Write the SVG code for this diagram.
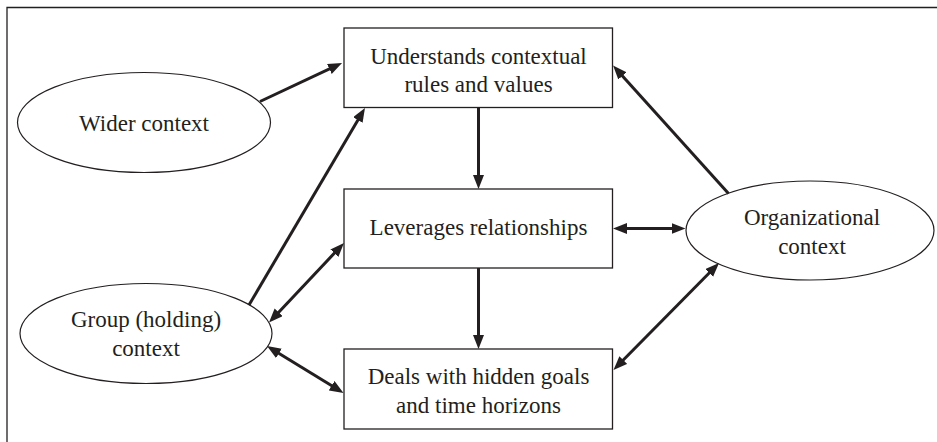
<svg xmlns="http://www.w3.org/2000/svg" width="937" height="442" viewBox="0 0 937 442">
<style>
  .frame{fill:none;stroke:#231f20;stroke-width:1.3}
  .box{fill:#fff;stroke:#231f20;stroke-width:1.3}
  .ell{fill:#fff;stroke:#231f20;stroke-width:1.2}
  .lbl{font-family:"Liberation Serif","Times New Roman",serif;font-size:23px;fill:#231f20;text-anchor:middle}
  .arr{fill:none;stroke:#231f20;stroke-width:3}
</style>
<defs>
  <marker id="ah" markerUnits="userSpaceOnUse" markerWidth="16" markerHeight="12" refX="6" refY="5.5" orient="auto-start-reverse" viewBox="0 0 16 12">
    <path d="M0,0 L14,5.5 L0,11 z" fill="#231f20"/>
  </marker>
</defs>
<rect width="937" height="442" fill="#fff"/>
<path class="frame" d="M7,442 V7.5 H937"/>

<g id="wider">
  <ellipse class="ell" cx="144" cy="122.5" rx="126.5" ry="50"/>
  <text class="lbl" x="144" y="131">Wider context</text>
</g>
<g id="group">
  <ellipse class="ell" cx="146" cy="333.5" rx="126" ry="50"/>
  <text class="lbl" x="146" y="327">Group (holding)</text>
  <text class="lbl" x="146" y="356">context</text>
</g>
<g id="org">
  <ellipse class="ell" cx="810" cy="230.5" rx="124" ry="49.5"/>
  <text class="lbl" x="812" y="225">Organizational</text>
  <text class="lbl" x="812" y="254">context</text>
</g>
<g id="understands">
  <rect class="box" x="344" y="28" width="268.5" height="79.5"/>
  <text class="lbl" x="478.5" y="63.5">Understands contextual</text>
  <text class="lbl" x="478.5" y="92">rules and values</text>
</g>
<g id="leverages">
  <rect class="box" x="344" y="189" width="268.5" height="79"/>
  <text class="lbl" x="478.5" y="235">Leverages relationships</text>
</g>
<g id="deals">
  <rect class="box" x="344" y="349" width="268.5" height="80"/>
  <text class="lbl" x="478.5" y="383.5">Deals with hidden goals</text>
  <text class="lbl" x="478.5" y="412.5">and time horizons</text>
</g>

<g id="connectors">
  <line class="arr" x1="260" y1="101.5" x2="334.8" y2="66.4" marker-end="url(#ah)"/>
  <line class="arr" x1="249" y1="305" x2="360.9" y2="114.9" marker-end="url(#ah)"/>
  <line class="arr" x1="478.5" y1="107.5" x2="478.5" y2="181" marker-end="url(#ah)"/>
  <line class="arr" x1="728.5" y1="193.5" x2="618.4" y2="71.4" marker-end="url(#ah)"/>
  <line class="arr" x1="621" y1="228.5" x2="677.5" y2="228.5" marker-start="url(#ah)" marker-end="url(#ah)"/>
  <line class="arr" x1="274.5" y1="316.7" x2="338.5" y2="248.8" marker-start="url(#ah)" marker-end="url(#ah)"/>
  <line class="arr" x1="273.8" y1="350.2" x2="336.7" y2="388.8" marker-start="url(#ah)" marker-end="url(#ah)"/>
  <line class="arr" x1="478.5" y1="268" x2="478.5" y2="341" marker-end="url(#ah)"/>
  <line class="arr" x1="619.1" y1="364.3" x2="713.4" y2="268.7" marker-start="url(#ah)" marker-end="url(#ah)"/>
</g>
</svg>
